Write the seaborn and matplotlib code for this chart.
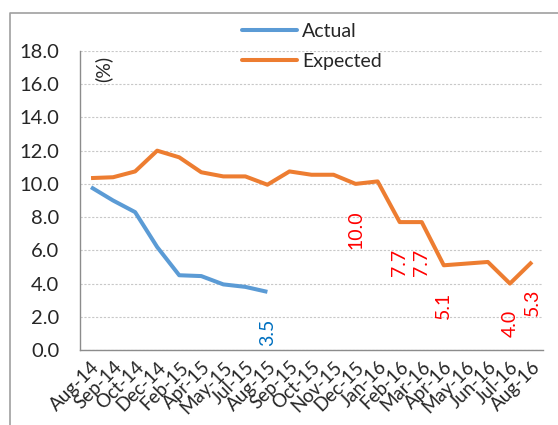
import matplotlib
matplotlib.use("Agg")
import matplotlib.pyplot as plt
import seaborn as sns
import numpy as np
import pandas as pd
from matplotlib.lines import Line2D

months = ["Aug-14", "Sep-14", "Oct-14", "Dec-14", "Feb-15", "Apr-15", "May-15",
          "Jul-15", "Aug-15", "Sep-15", "Oct-15", "Nov-15", "Dec-15", "Jan-16",
          "Feb-16", "Mar-16", "Apr-16", "May-16", "Jun-16", "Jul-16", "Aug-16"]
actual = [9.8, 9.0, 8.3, 6.2, 4.5, 4.45, 3.95, 3.8, 3.5] + [np.nan] * 12
expected = [10.35, 10.4, 10.75, 12.0, 11.6, 10.7, 10.45, 10.45, 9.95, 10.75,
            10.55, 10.55, 10.0, 10.15, 7.7, 7.7, 5.1, 5.2, 5.3, 4.0, 5.3]

# month indices whose values are printed beside the points
expected_labels = [12, 14, 15, 16, 19, 20]
actual_labels = [8]

sns.set_style("white")
plt.rcParams["font.family"] = ["Lato", "DejaVu Sans"]

fig = plt.figure(figsize=(5.58, 4.25), dpi=100)
ax = fig.add_axes([80 / 558, 1 - 350 / 425, 463 / 558, 299 / 425])

pos = np.arange(len(months))
df = pd.DataFrame({"pos": pos, "Actual": actual, "Expected": expected})

blue = "#5B9BD5"
orange = "#ED7D31"
sns.lineplot(data=df, x="pos", y="Actual", ax=ax, color=blue, lw=2.9,
             solid_capstyle="butt", solid_joinstyle="round")
sns.lineplot(data=df, x="pos", y="Expected", ax=ax, color=orange, lw=2.9,
             solid_capstyle="butt", solid_joinstyle="round")

for i in expected_labels:
    ax.annotate(f"{expected[i]:.1f}", (pos[i], expected[i]), xytext=(0, -19),
                textcoords="offset points", rotation=90, ha="center", va="top",
                color="#FF0000", fontsize=14)
for i in actual_labels:
    ax.annotate(f"{actual[i]:.1f}", (pos[i], actual[i]), xytext=(0, -19),
                textcoords="offset points", rotation=90, ha="center", va="top",
                color="#0070C0", fontsize=14)

ax.set_xlim(-0.5, len(months) - 0.5)
ax.set_ylim(0, 18)
yt = np.arange(0, 18.1, 2)
ax.set_yticks(yt)
ax.set_yticklabels([f"{v:.1f}" for v in yt], fontsize=14.5)
ax.set_xticks(pos)
ax.set_xticklabels(months, rotation=45, ha="right", rotation_mode="anchor",
                   fontsize=13.5)
ax.tick_params(axis="both", length=0, pad=6)
ax.tick_params(axis="y", pad=15)
ax.set_xlabel("")
ax.set_ylabel("")

ax.grid(axis="y", color="#C8C8C8", linestyle=(0, (2, 1.5)), linewidth=0.8)
ax.grid(axis="x", visible=False)
for side in ["top", "right"]:
    ax.spines[side].set_visible(False)
for side in ["left", "bottom"]:
    ax.spines[side].set_color("#8C8C8C")
    ax.spines[side].set_linewidth(1.0)

ax.text(0.05, 0.94, "(%)", transform=ax.transAxes, rotation=90,
        ha="center", va="center", fontsize=14)

handles = [Line2D([], [], color=blue, lw=2.9), Line2D([], [], color=orange, lw=2.9)]
fig.legend(handles, ["Actual", "Expected"], loc="center left",
           bbox_to_anchor=(242 / 558, 1 - 46.5 / 425), frameon=False,
           fontsize=14, handlelength=2.85, handletextpad=0.25,
           borderpad=0, borderaxespad=0, labelspacing=0.7)

# chart area border along the top and left edges
fig.add_artist(Line2D([10 / 558, 10 / 558, 1.0], [0.0, 1 - 13 / 425, 1 - 13 / 425],
                      transform=fig.transFigure, color="#A0A0A0", lw=1.2))

fig.savefig("out.png", dpi=100)
